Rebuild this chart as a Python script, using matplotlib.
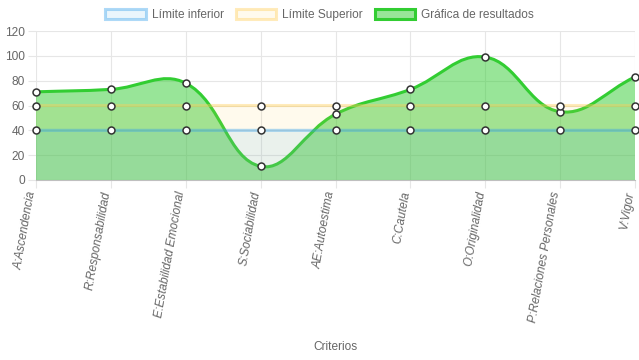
import numpy as np
import matplotlib.pyplot as plt
import matplotlib.transforms as mtransforms
from matplotlib.path import Path
from matplotlib.patches import PathPatch, Patch

criterios = ["A:Ascendencia", "R:Responsabilidad", "E:Estabilidad Emocional",
             "S:Sociabilidad", "AE:Autoestima", "C:Cautela", "O:Originalidad",
             "P:Relaciones Personales", "V:Vigor"]
resultados = [71, 73, 78, 11, 53, 73, 99, 55, 83]
limite_inferior = [40] * 9
limite_superior = [60] * 9
yticks = [0, 20, 40, 60, 80, 100, 120]

plt.rcParams['font.family'] = ['Liberation Sans', 'DejaVu Sans']
GRIS = '#666666'

fig = plt.figure(figsize=(6.39, 3.6), dpi=100)
ax = fig.add_axes([36 / 639, 180 / 360, 599 / 639, 149 / 360])
x = np.arange(len(criterios))
ax.set_xlim(0, len(criterios) - 1)
ax.set_ylim(0, 120)


def curva(xs, ys, t=0.4):
    # curva bezier al estilo chart.js (tension 0.4), en pixeles
    pts = ax.transData.transform(np.column_stack([xs, ys]))
    n = len(pts)
    y_lo, y_hi = sorted(ax.transData.transform([[0, 0], [0, 120]])[:, 1])
    cp_prev, cp_next = [], []
    for i in range(n):
        prev = pts[max(i - 1, 0)]
        cur = pts[i]
        nxt = pts[min(i + 1, n - 1)]
        d01 = np.hypot(*(cur - prev))
        d12 = np.hypot(*(nxt - cur))
        tot = d01 + d12
        s01 = d01 / tot if tot else 0
        s12 = d12 / tot if tot else 0
        a = cur - t * s01 * (nxt - prev)
        b = cur + t * s12 * (nxt - prev)
        a[1] = np.clip(a[1], y_lo, y_hi)
        b[1] = np.clip(b[1], y_lo, y_hi)
        cp_prev.append(a)
        cp_next.append(b)
    verts = [pts[0]]
    codes = [Path.MOVETO]
    for i in range(n - 1):
        verts += [cp_next[i], cp_prev[i + 1], pts[i + 1]]
        codes += [Path.CURVE4] * 3
    verts = ax.transData.inverted().transform(np.array(verts))
    return verts, codes


def serie(ys, linea, relleno, z):
    verts, codes = curva(x, ys)
    area = np.vstack([verts, [[x[-1], 0], [x[0], 0], [x[0], 0]]])
    ax.add_patch(PathPatch(Path(area, codes + [Path.LINETO, Path.LINETO, Path.CLOSEPOLY]),
                           facecolor=relleno, edgecolor='none', zorder=z))
    ax.add_patch(PathPatch(Path(verts, codes), facecolor='none', edgecolor=linea,
                           lw=2.2, zorder=z + 0.5, clip_on=False))
    ax.plot(x, ys, 'o', ms=5, mfc='white', mec='#333333', mew=1.1,
            zorder=10, clip_on=False)


serie(resultados, (50 / 255, 205 / 255, 50 / 255), (50 / 255, 205 / 255, 50 / 255, 0.5), 3)
serie(limite_superior, (255 / 255, 206 / 255, 86 / 255, 0.4), (255 / 255, 206 / 255, 86 / 255, 0.1), 4)
serie(limite_inferior, (54 / 255, 162 / 255, 235 / 255, 0.4), (54 / 255, 162 / 255, 235 / 255, 0.1), 5)

# rejilla
ax.set_yticks(yticks)
ax.set_xticks(x)
ax.grid(True, color='#e6e6e6', lw=0.8, zorder=0)
ax.set_axisbelow(True)
for s in ['top', 'right', 'left']:
    ax.spines[s].set_visible(False)
ax.spines['bottom'].set_color('#bfbfbf')
ax.spines['bottom'].set_linewidth(0.8)
ax.tick_params(axis='both', length=6, color='#e6e6e6', width=0.8,
               labelcolor=GRIS, labelsize=8.6, pad=2)
ax.set_xticklabels(criterios, rotation=80, ha='right', va='center',
                   rotation_mode='anchor', fontstyle='italic')
desplaza = mtransforms.ScaledTranslation(-4 / 100, 0, fig.dpi_scale_trans)
for lbl in ax.get_xticklabels():
    lbl.set_transform(lbl.get_transform() + desplaza)
ax.set_xlabel('Criterios', color=GRIS, fontsize=8.6)
ax.xaxis.set_label_coords(0.5, -1.08)

handles = [
    Patch(facecolor=(54 / 255, 162 / 255, 235 / 255, 0.1), edgecolor=(54 / 255, 162 / 255, 235 / 255, 0.4), lw=2.2, label='Límite inferior'),
    Patch(facecolor=(255 / 255, 206 / 255, 86 / 255, 0.1), edgecolor=(255 / 255, 206 / 255, 86 / 255, 0.4), lw=2.2, label='Límite Superior'),
    Patch(facecolor=(50 / 255, 205 / 255, 50 / 255, 0.5), edgecolor=(50 / 255, 205 / 255, 50 / 255), lw=2.2, label='Gráfica de resultados'),
]
leg = fig.legend(handles=handles, loc='center', bbox_to_anchor=(0.5, 1 - 15 / 360), ncol=3,
                 frameon=False, fontsize=8.6, handlelength=3.4, handleheight=0.9,
                 handletextpad=0.5, columnspacing=1.0)
for t in leg.get_texts():
    t.set_color(GRIS)

fig.savefig('out.png', dpi=100)
